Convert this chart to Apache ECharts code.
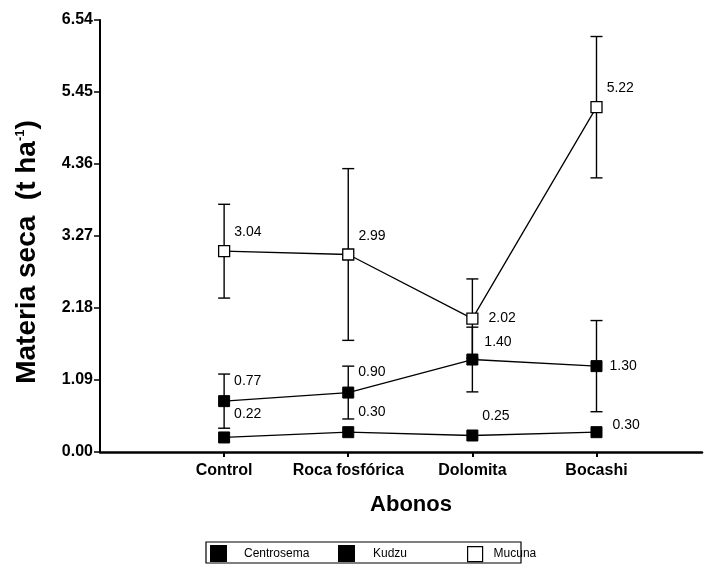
<!DOCTYPE html>
<html>
<head>
<meta charset="utf-8">
<script src="https://cdn.jsdelivr.net/npm/echarts@6/dist/echarts.min.js"></script>
<style>
html,body{margin:0;padding:0;background:#fff;}
#chart{width:713px;height:570px;}
</style>
</head>
<body>
<div id="chart"></div>
<script>
// ---- data ----
const categories = ['Control', 'Roca fosfórica', 'Dolomita', 'Bocashi'];
const centrosema = [0.22, 0.30, 0.25, 0.30];
const kudzu = [0.77, 0.90, 1.40, 1.30];
const mucuna = [3.04, 2.99, 2.02, 5.22];
const kudzuErr = [0.41, 0.40, 0.49, 0.69];
const mucunaErr = [0.71, 1.30, 0.60, 1.07];
const yTicks = [0, 1.09, 2.18, 3.27, 4.36, 5.45, 6.54];
const xPositions = [1, 2, 3, 4];

// ---- styles ----
const FONT = 'Liberation Sans, Arial, Helvetica, sans-serif';
const mucunaLabelOffsets = [[4, -19], [4, -18], [10, 0], [4, -19]];
const kudzuLabelOffsets = [[4, -20], [4, -20], [6, -17], [7, 0]];
const centroLabelOffsets = [[4, -23], [4, -20], [4, -19], [10, -7]];

function lineData(vals, offs) {
  return vals.map((v, i) => ({ value: [xPositions[i], v], label: { offset: offs[i] } }));
}
function errData(vals, errs) {
  return vals.map((v, i) => [xPositions[i], v - errs[i], v + errs[i]]);
}
function renderErr(params, api) {
  const x = api.value(0);
  const lo = api.coord([x, api.value(1)]);
  const hi = api.coord([x, api.value(2)]);
  const hw = 6;
  const st = { stroke: '#000', lineWidth: 1.4 };
  return {
    type: 'group',
    children: [
      { type: 'line', shape: { x1: lo[0], y1: lo[1], x2: hi[0], y2: hi[1] }, style: st },
      { type: 'line', shape: { x1: lo[0] - hw, y1: lo[1], x2: lo[0] + hw, y2: lo[1] }, style: st },
      { type: 'line', shape: { x1: hi[0] - hw, y1: hi[1], x2: hi[0] + hw, y2: hi[1] }, style: st }
    ]
  };
}
const labelCommon = {
  show: true, position: 'right', distance: 0,
  fontFamily: FONT, fontSize: 14, color: '#000',
  formatter: p => p.value[1].toFixed(2)
};

const chart = echarts.init(document.getElementById('chart'));
const legendBase = {
  orient: 'horizontal', top: 545, padding: 0, itemWidth: 15, itemHeight: 15,
  selectedMode: false
};
chart.setOption({
  animation: false,
  backgroundColor: '#fff',
  grid: { left: 100, right: 11, top: 20, bottom: 118, containLabel: false },
  xAxis: {
    type: 'value', min: 0, max: 4.85,
    splitLine: { show: false },
    axisLine: { show: true, lineStyle: { color: '#000', width: 2.5 } },
    axisTick: { show: true, customValues: xPositions, length: 5, lineStyle: { color: '#000', width: 2 } },
    axisLabel: {
      customValues: xPositions, margin: 11,
      formatter: v => categories[Math.round(v) - 1] || '',
      fontFamily: FONT, fontSize: 16, fontWeight: 'bold', color: '#000'
    },
    name: 'Abonos', nameLocation: 'middle', nameGap: 42,
    nameTextStyle: { fontFamily: FONT, fontSize: 22, fontWeight: 'bold', color: '#000', padding: [0, 0, 0, 20] }
  },
  yAxis: {
    type: 'value', min: 0, max: 6.54,
    splitLine: { show: false },
    axisLine: { show: true, onZero: false, lineStyle: { color: '#000', width: 2 } },
    axisTick: { show: true, customValues: yTicks, length: 6, lineStyle: { color: '#000', width: 1.5 } },
    axisLabel: {
      customValues: yTicks, margin: 7,
      formatter: v => v.toFixed(2),
      fontFamily: FONT, fontSize: 16, fontWeight: 'bold', color: '#000'
    }
  },
  graphic: [
    {
      type: 'text', x: 27, y: 252, rotation: Math.PI / 2,
      style: {
        text: '{a|Materia seca  (t ha}{s|-1}{a|)}',
        align: 'center', verticalAlign: 'middle',
        rich: {
          a: { fontFamily: FONT, fontSize: 28, fontWeight: 'bold', fill: '#000' },
          s: { fontFamily: FONT, fontSize: 13, fontWeight: 'bold', fill: '#000', padding: [0, 0, 14, 0] }
        }
      }
    },
    {
      type: 'rect', shape: { x: 206, y: 542, width: 315, height: 21 },
      style: { fill: 'none', stroke: '#000', lineWidth: 1.2 }
    }
  ],
  legend: [
    Object.assign({}, legendBase, {
      left: 210,
      data: [{ name: 'Centrosema', icon: 'rect', itemStyle: { color: '#000' } }],
      textStyle: { fontFamily: FONT, fontSize: 12, color: '#000', padding: [0, 0, 0, 13] }
    }),
    Object.assign({}, legendBase, {
      left: 338,
      data: [{ name: 'Kudzu', icon: 'rect', itemStyle: { color: '#000' } }],
      textStyle: { fontFamily: FONT, fontSize: 12, color: '#000', padding: [0, 0, 0, 14] }
    }),
    Object.assign({}, legendBase, {
      left: 467, top: 546,
      data: [{ name: 'Mucuna', icon: 'rect', itemStyle: { color: '#fff', borderColor: '#000', borderWidth: 1.2 } }],
      textStyle: { fontFamily: FONT, fontSize: 12, color: '#000', padding: [0, 0, 0, 6] }
    })
  ],
  series: [
    { type: 'custom', name: 'errM', renderItem: renderErr, data: errData(mucuna, mucunaErr), encode: { x: 0, y: [1, 2] }, z: 1, silent: true },
    { type: 'custom', name: 'errK', renderItem: renderErr, data: errData(kudzu, kudzuErr), encode: { x: 0, y: [1, 2] }, z: 1, silent: true },
    {
      type: 'line', name: 'Centrosema', data: lineData(centrosema, centroLabelOffsets), z: 3,
      symbol: 'rect', symbolSize: 11, lineStyle: { color: '#000', width: 1.3 },
      itemStyle: { color: '#000', borderColor: '#000', borderWidth: 1 }, label: labelCommon
    },
    {
      type: 'line', name: 'Kudzu', data: lineData(kudzu, kudzuLabelOffsets), z: 3,
      symbol: 'rect', symbolSize: 11, lineStyle: { color: '#000', width: 1.3 },
      itemStyle: { color: '#000', borderColor: '#000', borderWidth: 1 }, label: labelCommon
    },
    {
      type: 'line', name: 'Mucuna', data: lineData(mucuna, mucunaLabelOffsets), z: 3,
      symbol: 'rect', symbolSize: 11, lineStyle: { color: '#000', width: 1.3 },
      itemStyle: { color: '#fff', borderColor: '#000', borderWidth: 1.3 }, label: labelCommon
    }
  ]
});
</script>
</body>
</html>
